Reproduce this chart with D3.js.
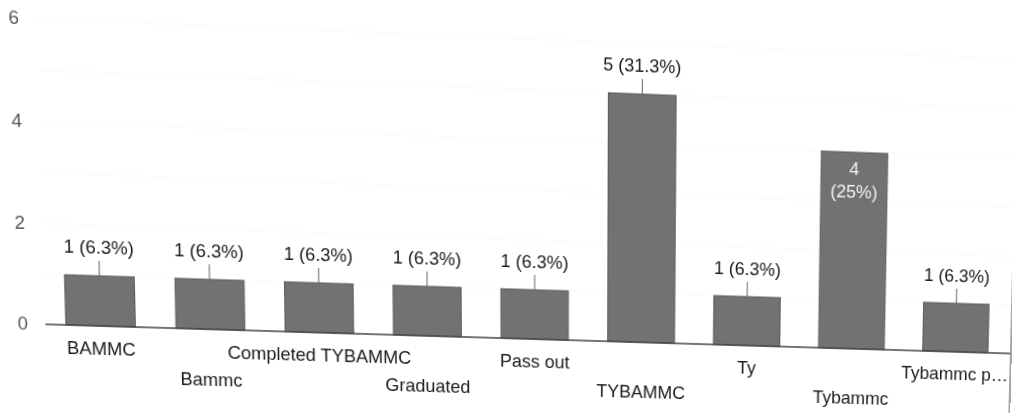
<!DOCTYPE html>
<html><head><meta charset="utf-8">
<script src="https://cdn.jsdelivr.net/npm/d3@7"></script>
<style>
html,body{margin:0;padding:0;background:#fff;overflow:hidden;width:1012px;height:413px}
#chart{position:absolute;left:0;top:0;transform-origin:0 0;overflow:visible}
text{font-family:"Liberation Sans",Arial,sans-serif}
</style></head><body>
<svg id="chart" width="1040" height="430"></svg>
<script>
// ---- data ----
const categories = ["BAMMC","Bammc","Completed TYBAMMC","Graduated","Pass out","TYBAMMC","Ty","Tybammc","Tybammc p…"];
const counts = [1,1,1,1,1,5,1,4,1];
const yTicks = [0,2,4,6];
const insideLabelCats = ["Tybammc"];

// ---- photo calibration (where chart features sit in the skewed photo) ----
const photoBase  = [[100,324],[210,328],[319,333],[426.7,336],[534,339],[644,341.5],[746.3,345],[853.3,348.3],[955,351]];
const photoTops  = [[100,276],[210,280],[319,284],[426.7,287.3],[534,290],[644,90.7],[746.3,297.7],[853.3,153.3],[955,305]];
const photoTicks = [[23,323.5],[20,223.5],[16.7,121],[13.3,18.5]];

const total = d3.sum(counts);
const fmtPct = v => { const p = (v/total*100).toFixed(1); return p.endsWith(".0") ? p.slice(0,-2) : p; };

const svg = d3.select("#chart");
const x = d3.scaleBand().domain(categories).range([46,1012]).paddingInner(0.37).paddingOuter(0.185);
const y = d3.scaleLinear().domain([0,6]).range([323,23]);
const cx = c => x(c) + x.bandwidth()/2;
const tickX = 29;
const xEnd = 1016;

// faint gridlines
svg.append("g").selectAll("line").data(d3.range(1,7)).join("line")
  .attr("x1",46).attr("x2",xEnd).attr("y1",d=>y(d)).attr("y2",d=>y(d))
  .attr("stroke","#f9f9f9").attr("stroke-width",1);

// y tick labels
svg.append("g").selectAll("text").data(yTicks).join("text")
  .attr("x",tickX).attr("y",d=>y(d)).attr("dy","0.35em")
  .attr("text-anchor","end").attr("font-size",18).attr("fill","#555")
  .text(d=>d);

// bars
const data = categories.map((c,i)=>({c, v:counts[i], i}));
svg.append("g").selectAll("rect").data(data).join("rect")
  .attr("x",d=>x(d.c)).attr("width",x.bandwidth())
  .attr("y",d=>y(d.v)).attr("height",d=>y(0)-y(d.v))
  .attr("fill","#727272").attr("stroke","#5a5a5a").attr("stroke-width",1);

// baseline
svg.append("line").attr("x1",46).attr("x2",xEnd).attr("y1",y(0)).attr("y2",y(0))
  .attr("stroke","#444").attr("stroke-width",1.6);

// right border of the card
svg.append("line").attr("x1",xEnd).attr("x2",xEnd).attr("y1",60).attr("y2",430)
  .attr("stroke","#8a8a8a").attr("stroke-width",1.5);

// value labels
const outside = data.filter(d=>!insideLabelCats.includes(d.c));
const inside = data.filter(d=>insideLabelCats.includes(d.c));
const gl = svg.append("g");
gl.selectAll("line").data(outside).join("line")
  .attr("x1",d=>cx(d.c)).attr("x2",d=>cx(d.c))
  .attr("y1",d=>y(d.v)).attr("y2",d=>y(d.v)-15)
  .attr("stroke","#666").attr("stroke-width",1);
gl.selectAll("text.out").data(outside).join("text").attr("class","out")
  .attr("x",d=>cx(d.c)).attr("y",d=>y(d.v)-22)
  .attr("text-anchor","middle").attr("font-size",18).attr("fill","#1a1a1a")
  .text(d=>`${d.v} (${fmtPct(d.v)}%)`);
const tin = gl.selectAll("text.in").data(inside).join("text").attr("class","in")
  .attr("text-anchor","middle").attr("font-size",18).attr("fill","#f2f2f2");
tin.append("tspan").attr("x",d=>cx(d.c)).attr("y",d=>y(d.v)+23).text(d=>d.v);
tin.append("tspan").attr("x",d=>cx(d.c)).attr("y",d=>y(d.v)+46).text(d=>`(${fmtPct(d.v)}%)`);

// category labels (staggered)
svg.append("g").selectAll("text").data(data).join("text")
  .attr("x",d=>cx(d.c)).attr("y",d=>y(0) + (d.i%2===0 ? 29.5 : 57))
  .attr("text-anchor","middle").attr("font-size",18).attr("fill","#1a1a1a")
  .text(d=>d.c);

// ---- warp the flat chart like the photographed original (least-squares homography) ----
const src=[], dst=[];
data.forEach((d,i)=>{
  src.push([cx(d.c), y(0)]); dst.push(photoBase[i]);
  src.push([cx(d.c), y(d.v)]); dst.push(photoTops[i]);
});
yTicks.forEach((t,i)=>{ src.push([tickX-5, y(t)]); dst.push(photoTicks[i]); });

function homography(src,dst){
  const s=1000, A=Array.from({length:8},()=>new Array(8).fill(0)), B=new Array(8).fill(0);
  const add=(r,b)=>{ for(let i=0;i<8;i++){ B[i]+=r[i]*b; for(let j=0;j<8;j++) A[i][j]+=r[i]*r[j]; } };
  src.forEach((p,k)=>{
    const xx=p[0]/s, yy=p[1]/s, X=dst[k][0]/s, Y=dst[k][1]/s;
    add([xx,yy,1,0,0,0,-xx*X,-yy*X],X);
    add([0,0,0,xx,yy,1,-xx*Y,-yy*Y],Y);
  });
  const n=8;
  for(let c=0;c<n;c++){
    let piv=c; for(let r=c+1;r<n;r++) if(Math.abs(A[r][c])>Math.abs(A[piv][c])) piv=r;
    [A[c],A[piv]]=[A[piv],A[c]]; [B[c],B[piv]]=[B[piv],B[c]];
    for(let r=0;r<n;r++){ if(r===c) continue; const f=A[r][c]/A[c][c];
      for(let j=c;j<n;j++) A[r][j]-=f*A[c][j]; B[r]-=f*B[c]; }
  }
  const p=B.map((b,i)=>b/A[i][i]);
  return [p[0],p[1],p[2]*s,p[3],p[4],p[5]*s,p[6]/s,p[7]/s];
}
const [a,b,c,d,e,f,g,h]=homography(src,dst);
svg.style("transform",`matrix3d(${a},${d},0,${g},${b},${e},0,${h},0,0,1,0,${c},${f},0,1)`);
</script>
</body></html>
